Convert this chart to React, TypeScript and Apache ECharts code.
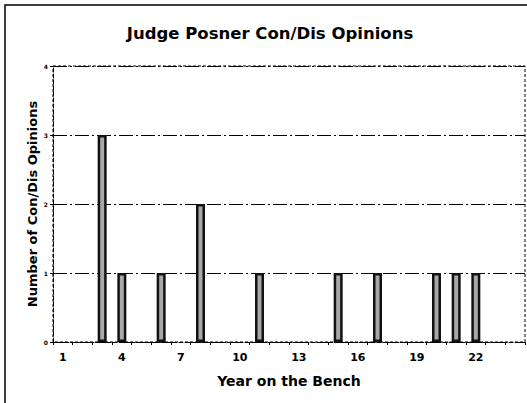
import React, { useEffect, useRef } from "react";
import * as echarts from "echarts";

const years = ["1","2","3","4","5","6","7","8","9","10","11","12","13","14","15","16","17","18","19","20","21","22","23","24"];
const opinions: (number | string)[] = ["-","-",3,1,"-",1,"-",2,"-","-",1,"-","-","-",1,"-",1,"-","-",1,1,1,"-","-"];
const yTicks = [0, 1, 2, 3, 4];

const FONT = "DejaVu Sans";

export default function App() {
  const ref = useRef<HTMLDivElement>(null);
  useEffect(() => {
    document.body.style.margin = "0";
    const chart = echarts.init(ref.current!, null, { renderer: "svg" });
    chart.setOption({
      animation: false,
      backgroundColor: "#fff",
      title: {
        text: "Judge Posner Con/Dis Opinions",
        left: 265,
        textAlign: "center",
        top: 20,
        textStyle: { fontFamily: FONT, fontWeight: "bold", fontSize: 16.5, color: "#000" },
      },
      grid: { left: 53, right: 2, top: 66, bottom: 61 },
      graphic: [
        {
          type: "rect",
          shape: { x: 5, y: 5, width: 560, height: 440 },
          style: { fill: "none", stroke: "#000", lineWidth: 1.5 },
          silent: true,
        },
        {
          type: "rect",
          shape: { x: 53, y: 66, width: 472, height: 276 },
          style: { fill: "none", stroke: "#000", lineWidth: 1, lineDash: [3, 2] },
          silent: true,
          z: 0,
        },
      ],
      xAxis: {
        type: "category",
        data: years,
        name: "Year on the Bench",
        nameLocation: "middle",
        nameGap: 32,
        nameTextStyle: { fontFamily: FONT, fontWeight: "bold", fontSize: 14, color: "#000" },
        axisLine: { lineStyle: { color: "#000", width: 1, type: [4, 2] } },
        axisTick: { show: true, interval: 0, length: 3, lineStyle: { color: "#000" } },
        axisLabel: {
          interval: 2,
          fontFamily: FONT,
          fontWeight: "bold",
          fontSize: 11,
          color: "#000",
          margin: 10,
        },
        splitLine: { show: false },
      },
      yAxis: {
        type: "value",
        min: 0,
        max: 4,
        interval: 1,
        name: "Number of Con/Dis Opinions",
        nameLocation: "middle",
        nameGap: 14,
        nameMoveOverlap: false,
        nameTextStyle: { fontFamily: FONT, fontWeight: "bold", fontSize: 13, color: "#000" },
        axisLine: { show: true, lineStyle: { color: "#000", width: 1, type: [4, 2] } },
        axisTick: { show: true, length: 3, lineStyle: { color: "#000" } },
        axisLabel: {
          fontFamily: FONT,
          fontWeight: "bold",
          fontSize: 6,
          color: "#000",
          margin: 5,
          formatter: (v: number) => (yTicks.includes(v) ? String(v) : ""),
        },
        splitLine: { show: true, lineStyle: { color: "#000", width: 1, type: [14, 3, 2, 3] } },
      },
      series: [
        {
          type: "bar",
          data: opinions,
          barWidth: 9,
          itemStyle: { color: "#a8a8a8", borderColor: "#111", borderWidth: 2.5 },
          z: 3,
        },
      ],
    });
    return () => chart.dispose();
  }, []);
  return <div ref={ref} style={{ width: 527, height: 403 }} />;
}
